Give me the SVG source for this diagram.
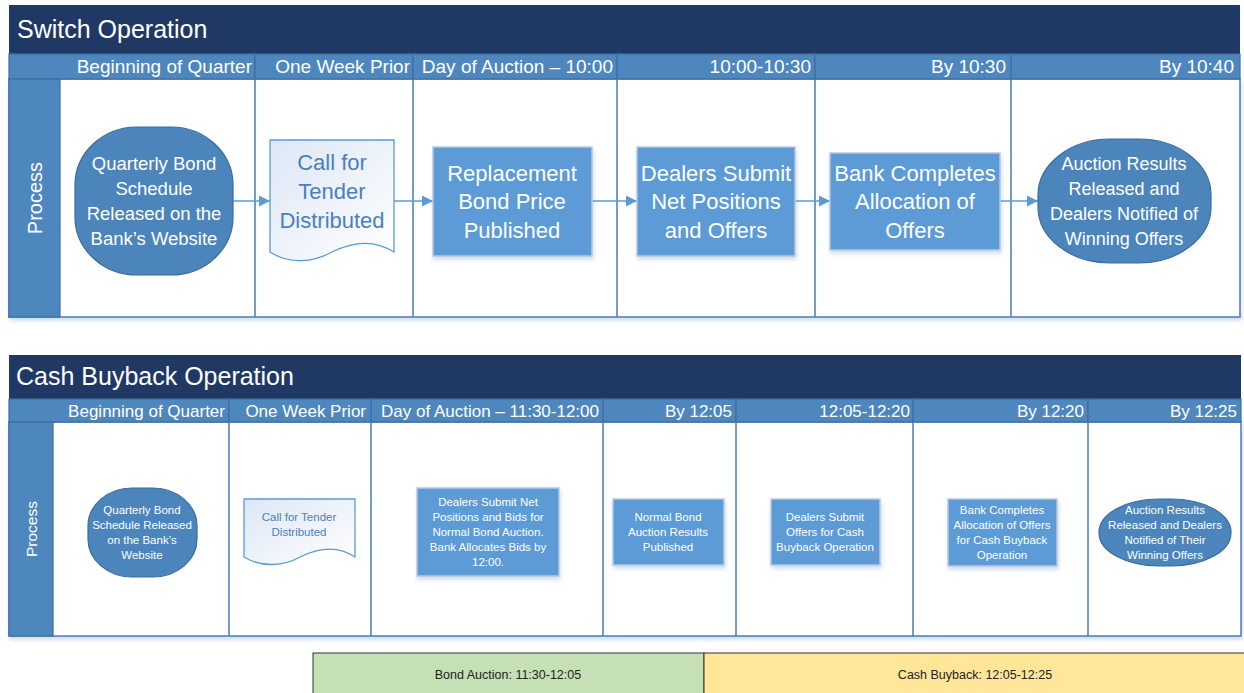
<svg xmlns="http://www.w3.org/2000/svg" width="1244" height="693" viewBox="0 0 1244 693">
<style>
text{font-family:"Liberation Sans",Arial,sans-serif}
.title{fill:#203864}
.hdr{fill:#4e87be;stroke:#3c6ea4;stroke-width:1.2}
.body{fill:#ffffff;stroke:#4a7db5;stroke-width:1.5}
.div{stroke:#4a7db5;stroke-width:1.5}
.tt{fill:#ffffff;font-size:25px}
.ht{fill:#ffffff;text-anchor:end}
.term{fill:#4b85bc;stroke:#3a6c9f;stroke-width:1.2}
.proc{fill:#5b9bd5;stroke:#b7c9e2;stroke-width:1.5}
.doc{fill:url(#docg);stroke:#5b9bd5;stroke-width:1.3}
.wt{fill:#ffffff;text-anchor:middle}
.dt{fill:#4a80c0;text-anchor:middle}
.conn{stroke:#5b9bd5;stroke-width:1.6;fill:none;marker-end:url(#arr)}
.leg{font-size:12.5px;fill:#222;text-anchor:middle}
</style>
<defs>
<linearGradient id="docg" x1="0" y1="0" x2="1" y2="1">
<stop offset="0" stop-color="#dde7f5"/>
<stop offset="1" stop-color="#ffffff"/>
</linearGradient>
<marker id="arr" viewBox="0 0 10 10" refX="10" refY="5" markerWidth="12" markerHeight="11" markerUnits="userSpaceOnUse" orient="auto">
<path d="M0,0 L10,5 L0,10 Z" fill="#5b9bd5"/>
</marker>
<filter id="sh" x="-5%" y="-5%" width="110%" height="115%">
<feDropShadow dx="1" dy="3" stdDeviation="2" flood-color="#7a9cc6" flood-opacity="0.35"/>
</filter>
</defs>

<!-- Switch Operation frame -->
<g id="switch-frame">
<rect x="9" y="79" width="1231" height="238" class="body" filter="url(#sh)"/>
<rect x="9" y="5" width="1231" height="49" class="title"/>
<text x="17" y="38" class="tt">Switch Operation</text>
<rect x="9" y="54" width="246" height="25" class="hdr"/>
<rect x="255" y="54" width="158" height="25" class="hdr"/>
<rect x="413" y="54" width="204" height="25" class="hdr"/>
<rect x="617" y="54" width="198" height="25" class="hdr"/>
<rect x="815" y="54" width="196" height="25" class="hdr"/>
<rect x="1011" y="54" width="229" height="25" class="hdr"/>
<g font-size="19">
<text x="252" y="73" class="ht">Beginning of Quarter</text>
<text x="410" y="73" class="ht">One Week Prior</text>
<text x="613" y="73" class="ht">Day of Auction – 10:00</text>
<text x="811" y="73" class="ht">10:00-10:30</text>
<text x="1006" y="73" class="ht">By 10:30</text>
<text x="1234" y="73" class="ht">By 10:40</text>
</g>
<rect x="9" y="79" width="51" height="238" class="hdr"/>
<text transform="translate(42,198) rotate(-90)" text-anchor="middle" font-size="20" fill="#ffffff">Process</text>
<line x1="255" y1="79" x2="255" y2="317" class="div"/>
<line x1="413" y1="79" x2="413" y2="317" class="div"/>
<line x1="617" y1="79" x2="617" y2="317" class="div"/>
<line x1="815" y1="79" x2="815" y2="317" class="div"/>
<line x1="1011" y1="79" x2="1011" y2="317" class="div"/>
</g>

<!-- Cash Buyback frame -->
<g id="buyback-frame">
<rect x="9" y="422" width="1232" height="214" class="body" filter="url(#sh)"/>
<rect x="9" y="355" width="1232" height="44" class="title"/>
<text x="16" y="385" class="tt" font-size="22">Cash Buyback Operation</text>
<rect x="9" y="399" width="220" height="23" class="hdr"/>
<rect x="229" y="399" width="142" height="23" class="hdr"/>
<rect x="371" y="399" width="232" height="23" class="hdr"/>
<rect x="603" y="399" width="133" height="23" class="hdr"/>
<rect x="736" y="399" width="177" height="23" class="hdr"/>
<rect x="913" y="399" width="175" height="23" class="hdr"/>
<rect x="1088" y="399" width="153" height="23" class="hdr"/>
<g font-size="17">
<text x="225" y="417" class="ht">Beginning of Quarter</text>
<text x="366" y="417" class="ht">One Week Prior</text>
<text x="599" y="417" class="ht">Day of Auction – 11:30-12:00</text>
<text x="732" y="417" class="ht">By 12:05</text>
<text x="910" y="417" class="ht">12:05-12:20</text>
<text x="1084" y="417" class="ht">By 12:20</text>
<text x="1237" y="417" class="ht">By 12:25</text>
</g>
<rect x="9" y="422" width="44" height="214" class="hdr"/>
<text transform="translate(37,529) rotate(-90)" text-anchor="middle" font-size="15.5" fill="#ffffff">Process</text>
<line x1="229" y1="422" x2="229" y2="636" class="div"/>
<line x1="371" y1="422" x2="371" y2="636" class="div"/>
<line x1="603" y1="422" x2="603" y2="636" class="div"/>
<line x1="736" y1="422" x2="736" y2="636" class="div"/>
<line x1="913" y1="422" x2="913" y2="636" class="div"/>
<line x1="1088" y1="422" x2="1088" y2="636" class="div"/>
</g>

<!-- connectors -->
<g id="connectors">
<line x1="233" y1="201" x2="270" y2="201" class="conn"/>
<line x1="394" y1="201" x2="433" y2="201" class="conn"/>
<line x1="592" y1="201" x2="637" y2="201" class="conn"/>
<line x1="795" y1="201" x2="830" y2="201" class="conn"/>
<line x1="1000" y1="201" x2="1038" y2="201" class="conn"/>
</g>

<!-- Switch nodes -->
<g id="s1">
<rect x="75" y="127" width="158" height="148" rx="62" ry="58" class="term"/>
<g class="wt" font-size="18.5"><text x="154" y="170">Quarterly Bond</text><text x="154" y="195">Schedule</text><text x="154" y="220">Released on the</text><text x="154" y="245">Bank’s Website</text></g>
</g>
<g id="s2">
<path d="M270,140 H394 V252 C372,238 350,243 332,252 C314,262 290,265 270,252 Z" class="doc"/>
<g class="dt" font-size="22"><text x="332" y="170">Call for</text><text x="332" y="199">Tender</text><text x="332" y="228">Distributed</text></g>
</g>
<g id="s3">
<rect x="433" y="147" width="159" height="109" class="proc" filter="url(#sh)"/>
<g class="wt" font-size="22"><text x="512" y="181">Replacement</text><text x="512" y="209">Bond Price</text><text x="512" y="238">Published</text></g>
</g>
<g id="s4">
<rect x="637" y="147" width="158" height="109" class="proc" filter="url(#sh)"/>
<g class="wt" font-size="22"><text x="716" y="181">Dealers Submit</text><text x="716" y="209">Net Positions</text><text x="716" y="238">and Offers</text></g>
</g>
<g id="s5">
<rect x="830" y="153" width="170" height="97" class="proc" filter="url(#sh)"/>
<g class="wt" font-size="22"><text x="915" y="181">Bank Completes</text><text x="915" y="209">Allocation of</text><text x="915" y="238">Offers</text></g>
</g>
<g id="s6">
<rect x="1038" y="139" width="173" height="124" rx="72" ry="56" class="term"/>
<g class="wt" font-size="18"><text x="1124" y="170">Auction Results</text><text x="1124" y="195">Released and</text><text x="1124" y="220">Dealers Notified of</text><text x="1124" y="245">Winning Offers</text></g>
</g>

<!-- Buyback nodes -->
<g id="b1">
<rect x="88" y="488" width="109" height="89" rx="44" ry="38" class="term"/>
<g class="wt" font-size="11.5"><text x="142" y="514">Quarterly Bond</text><text x="142" y="529">Schedule Released</text><text x="142" y="544">on the Bank’s</text><text x="142" y="559">Website</text></g>
</g>
<g id="b2">
<path d="M244,499 H355 V557 C336,544 316,549 300,557 C284,566 262,568 244,557 Z" class="doc"/>
<g class="dt" font-size="11.5"><text x="299" y="521">Call for Tender</text><text x="299" y="536">Distributed</text></g>
</g>
<g id="b3">
<rect x="417" y="488" width="142" height="88" class="proc" filter="url(#sh)"/>
<g class="wt" font-size="11.5"><text x="488" y="506">Dealers Submit Net</text><text x="488" y="521">Positions and Bids for</text><text x="488" y="536">Normal Bond Auction.</text><text x="488" y="551">Bank Allocates Bids by</text><text x="488" y="566">12:00.</text></g>
</g>
<g id="b4">
<rect x="613" y="499" width="111" height="66" class="proc" filter="url(#sh)"/>
<g class="wt" font-size="11.5"><text x="668" y="521">Normal Bond</text><text x="668" y="536">Auction Results</text><text x="668" y="551">Published</text></g>
</g>
<g id="b5">
<rect x="771" y="499" width="109" height="66" class="proc" filter="url(#sh)"/>
<g class="wt" font-size="11.5"><text x="825" y="521">Dealers Submit</text><text x="825" y="536">Offers for Cash</text><text x="825" y="551">Buyback Operation</text></g>
</g>
<g id="b6">
<rect x="948" y="499" width="109" height="67" class="proc" filter="url(#sh)"/>
<g class="wt" font-size="11.5"><text x="1002" y="514">Bank Completes</text><text x="1002" y="529">Allocation of Offers</text><text x="1002" y="544">for Cash Buyback</text><text x="1002" y="559">Operation</text></g>
</g>
<g id="b7">
<rect x="1099" y="499" width="132" height="67" rx="60" ry="33" class="term"/>
<g class="wt" font-size="11.5"><text x="1165" y="514">Auction Results</text><text x="1165" y="529">Released and Dealers</text><text x="1165" y="544">Notified of Their</text><text x="1165" y="559">Winning Offers</text></g>
</g>

<!-- legend -->
<g id="legend">
<rect x="313" y="653" width="391" height="45" fill="#c5e0b4" stroke="#333" stroke-width="1"/>
<rect x="704" y="653" width="545" height="45" fill="#ffe699" stroke="#333" stroke-width="1"/>
<text x="508" y="679" class="leg">Bond Auction: 11:30-12:05</text>
<text x="975" y="679" class="leg">Cash Buyback: 12:05-12:25</text>
</g>
</svg>
